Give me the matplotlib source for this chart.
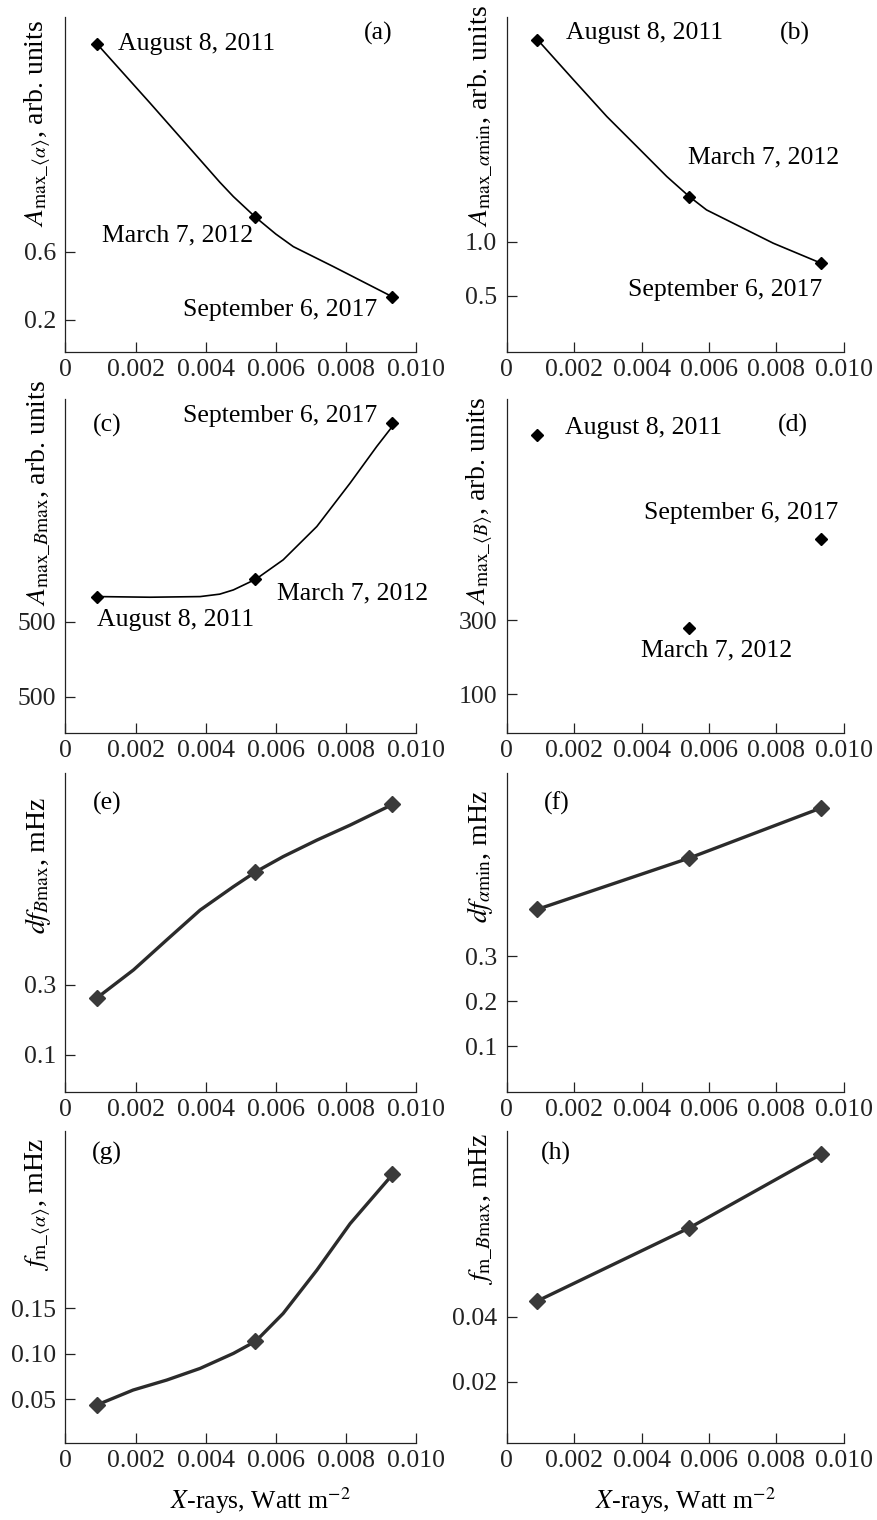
import numpy as np
import matplotlib
matplotlib.use("Agg")
import matplotlib.pyplot as plt

plt.rcParams["font.family"] = ["Liberation Serif", "DejaVu Serif"]
plt.rcParams["mathtext.fontset"] = "stix"

# X-ray flux for the three events, W m^-2
xray = [0.00091, 0.00542, 0.00932]
dates = ["August 8, 2011", "March 7, 2012", "September 6, 2017"]

# (a) A_max_<alpha>
a_pts = [1.824, 0.804, 0.337]
a_curve_x = [0.00089, 0.00241, 0.00384, 0.00440, 0.00479, 0.00542, 0.00600, 0.0065, 0.00764, 0.00932]
a_curve_y = [1.824, 1.475, 1.141, 1.010, 0.925, 0.804, 0.705, 0.631, 0.514, 0.337]

# (b) A_max_alpha_min
b_pts = [2.868, 1.419, 0.803]
b_curve_x = [0.00092, 0.00198, 0.00297, 0.00396, 0.00475, 0.00542, 0.00593, 0.00692, 0.00791, 0.00933]
b_curve_y = [2.868, 2.50, 2.16, 1.852, 1.605, 1.419, 1.296, 1.142, 0.988, 0.803]

# (c) A_max_Bmax
c_pts = [567.5, 613.8, 1030.0]
c_curve_x = [0.00094, 0.00241, 0.00384, 0.00440, 0.00479, 0.00543, 0.00621, 0.00717, 0.00812, 0.00888, 0.0094]
c_curve_y = [567.5, 565.8, 567.5, 574.0, 585.3, 613.8, 665.4, 754.2, 869.9, 967.5, 1030.0]
c_ticks = [300, 500]
c_ticklabels = ["500", "500"]

# (d) A_max_<B>
d_pts = [800.0, 278.0, 518.0]

# (e) df_Bmax
e_pts = [0.264, 0.623, 0.816]
e_curve_x = [0.00091, 0.00194, 0.00289, 0.00384, 0.00479, 0.00542, 0.00621, 0.00717, 0.00812, 0.00933]
e_curve_y = [0.264, 0.343, 0.429, 0.514, 0.581, 0.623, 0.667, 0.714, 0.757, 0.816]

# (f) df_alpha_min
f_pts = [0.404, 0.518, 0.629]

# (g) f_m_<alpha>
g_pts = [0.0434, 0.1137, 0.298]
g_curve_x = [0.00089, 0.00193, 0.00289, 0.00384, 0.00479, 0.00543, 0.00621, 0.00717, 0.00812, 0.00935]
g_curve_y = [0.0434, 0.0599, 0.0709, 0.0837, 0.1002, 0.1137, 0.1442, 0.1918, 0.243, 0.298]

# (h) f_m_Bmax
h_pts = [0.0449, 0.0674, 0.090]

x_ticks = [0, 0.002, 0.004, 0.006, 0.008, 0.010]
x_ticklabels = ["0", "0.002", "0.004", "0.006", "0.008", "0.010"]

FS = 18.5
LFS = 20
W, H = 878, 1520

fig = plt.figure(figsize=(W / 100, H / 100), dpi=100)


def make_axes(left_px, top_px, width_px, bottom_px):
    return fig.add_axes([left_px / W, 1 - bottom_px / H,
                         width_px / W, (bottom_px - top_px) / H])


def style(ax, ylim, yticks, yticklabels, ylabel, label_y, letter, letter_xy):
    for s in ("top", "right"):
        ax.spines[s].set_visible(False)
    for s in ("left", "bottom"):
        ax.spines[s].set_linewidth(0.9)
        ax.spines[s].set_color("#222222")
    ax.set_xlim(0, 0.010)
    ax.set_ylim(*ylim)
    ax.set_xticks(x_ticks)
    ax.set_xticklabels(x_ticklabels)
    ax.set_yticks(yticks)
    ax.set_yticklabels(yticklabels)
    ax.tick_params(direction="in", length=7, width=0.9, labelsize=FS, colors="#222222")
    ax.tick_params(axis="y", pad=7)
    ax.tick_params(axis="x", pad=5)
    ax.set_ylabel(ylabel, fontsize=LFS, loc="top")
    ax.yaxis.set_label_coords(-0.035, label_y)
    ax.text(letter_xy[0], letter_xy[1], letter, transform=ax.transAxes,
            fontsize=FS, ha="center", va="center")


def label_dates(ax, ys, offsets, aligns):
    for xv, yv, txt, off, ha in zip(xray, ys, dates, offsets, aligns):
        ax.annotate(txt, (xv, yv), xytext=off, textcoords="offset pixels",
                    ha=ha, va="center", fontsize=FS)


thin = dict(color="black", lw=1.2, solid_joinstyle="round")
thin_mk = dict(ls="none", marker="D", ms=6, color="black")
thick = dict(color="#2b2b2b", lw=2.4, solid_joinstyle="round")
thick_mk = dict(ls="none", marker="D", ms=8, color="#3a3a3a")

# row 1
ax_a = make_axes(65.5, 17, 350.5, 352)
ax_a.plot(a_curve_x, a_curve_y, **thin)
ax_a.plot(xray, a_pts, **thin_mk)
style(ax_a, (0.012, 1.98), [0.2, 0.6], ["0.2", "0.6"],
      r"$A_{\mathrm{max}\_\langle\alpha\rangle}$, arb. units", 0.99, "(a)", (0.891, 0.952))
label_dates(ax_a, a_pts, [(21, 0), (-2, -18), (-15, -13)], ["left", "right", "right"])

ax_b = make_axes(506.7, 17, 337, 352)
ax_b.plot(b_curve_x, b_curve_y, **thin)
ax_b.plot(xray, b_pts, **thin_mk)
style(ax_b, (-0.018, 3.08), [0.5, 1.0], ["0.5", "1.0"],
      r"$A_{\mathrm{max}\_\alpha\mathrm{min}}$, arb. units", 1.036, "(b)", (0.855, 0.952))
label_dates(ax_b, b_pts, [(29, 7), (-1, 39), (1, -27)], ["left", "left", "right"])

# row 2
ax_c = make_axes(65.5, 399, 350.5, 733)
ax_c.plot(c_curve_x, c_curve_y, **thin)
ax_c.plot(xray, c_pts, **thin_mk)
style(ax_c, (204, 1094), c_ticks, c_ticklabels,
      r"$A_{\mathrm{max}\_B\mathrm{max}}$, arb. units", 1.057, "(c)", (0.118, 0.922))
label_dates(ax_c, c_pts, [(0, -23), (22, -14), (-15, 7)], ["left", "left", "right"])

ax_d = make_axes(506.7, 399, 337, 733)
ax_d.plot(xray, d_pts, **thin_mk)
style(ax_d, (-5, 897), [100, 300], ["100", "300"],
      r"$A_{\mathrm{max}\_\langle B\rangle}$, arb. units", 1.006, "(d)", (0.85, 0.922))
label_dates(ax_d, d_pts, [(28, 7), (27, -22), (17, 26)], ["left", "center", "right"])

# row 3
ax_e = make_axes(65.5, 773, 350.5, 1092)
ax_e.plot(e_curve_x, e_curve_y, **thick)
ax_e.plot(xray, e_pts, **thick_mk)
style(ax_e, (-0.006, 0.906), [0.1, 0.3], ["0.1", "0.3"],
      r"$df_{B\mathrm{max}}$, mHz", 0.925, "(e)", (0.118, 0.906))

ax_f = make_axes(506.7, 773, 337, 1092)
ax_f.plot(xray, f_pts, **thick)
ax_f.plot(xray, f_pts, **thick_mk)
style(ax_f, (-0.002, 0.707), [0.1, 0.2, 0.3], ["0.1", "0.2", "0.3"],
      r"$df_{\alpha\mathrm{min}}$, mHz", 0.947, "(f)", (0.149, 0.906))

# row 4
ax_g = make_axes(65.5, 1131, 350.5, 1443)
ax_g.plot(g_curve_x, g_curve_y, **thick)
ax_g.plot(xray, g_pts, **thick_mk)
style(ax_g, (0.0016, 0.345), [0.05, 0.10, 0.15], ["0.05", "0.10", "0.15"],
      r"$f_{\mathrm{m}\_\langle\alpha\rangle}$, mHz", 0.978, "(g)", (0.118, 0.929))

ax_h = make_axes(506.7, 1131, 337, 1443)
ax_h.plot(xray, h_pts, **thick)
ax_h.plot(xray, h_pts, **thick_mk)
style(ax_h, (0.0012, 0.0972), [0.02, 0.04], ["0.02", "0.04"],
      r"$f_{\mathrm{m}\_B\mathrm{max}}$, mHz", 0.994, "(h)", (0.146, 0.929))

for ax, xc in ((ax_g, 0.555), (ax_h, 0.53)):
    ax.set_xlabel(r"$X$-rays, Watt m$^{-2}$", fontsize=FS)
    ax.xaxis.set_label_coords(xc, -0.135)

fig.savefig("out.png", dpi=100)
